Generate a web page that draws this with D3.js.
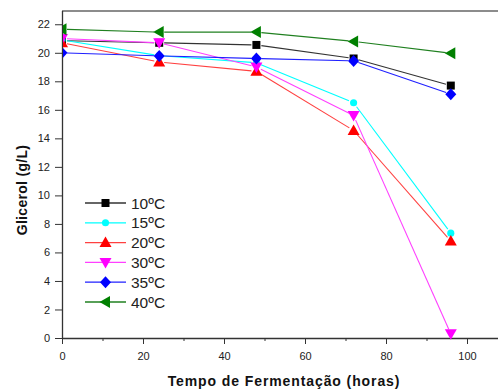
<!DOCTYPE html>
<html><head><meta charset="utf-8">
<script src="https://cdn.jsdelivr.net/npm/d3@7"></script>
<style>body{margin:0;background:#fff;}svg{display:block;font-family:Arial,"Liberation Sans",sans-serif;}</style>
</head><body><svg id="c" width="498" height="389"></svg>
<script>
const hours = [0, 24, 48, 72, 96];
const seriesNames = ["10ºC", "15ºC", "20ºC", "30ºC", "35ºC", "40ºC"];
const s10 = [20.85, 20.7, 20.55, 19.6, 17.7];
const s15 = [20.9, 19.8, 19.3, 16.5, 7.35];
const s20 = [20.7, 19.35, 18.7, 14.55, 6.8];
const s30 = [21.0, 20.7, 19.0, 15.6, 0.3];
const s35 = [20.0, 19.78, 19.6, 19.43, 17.1];
const s40 = [21.65, 21.45, 21.45, 20.8, 19.97];
const yTicks = [0,2,4,6,8,10,12,14,16,18,20,22];
const xTicks = [0,20,40,60,80,100];
const xMinor = [10,30,50,70,90];
const colors = ["#000000", "#00ffff", "#ff0000", "#ff00ff", "#0000ff", "#008000"];
const lineColors = ["#333333", "#00ffff", "#ff4040", "#ff40ff", "#2020ff", "#208020"];
const shapes = ["square", "circle", "up", "down", "diamond", "left"];
const allSeries = [s10, s15, s20, s30, s35, s40];

const svg = d3.select("#c");
const L = 62, T = 11, B = 338;
const x = d3.scaleLinear().domain([0, 108]).range([L, L + 108 * 4.05]);
const y = d3.scaleLinear().domain([0, 22.93]).range([B, T]);

// frame top
svg.append("line").attr("x1", L).attr("x2", 498).attr("y1", T).attr("y2", T).attr("stroke", "#666").attr("stroke-width", 1.6);

// axes
const yAxis = svg.append("g").attr("transform", `translate(${L},0)`)
  .call(d3.axisLeft(y).tickValues(yTicks).tickSize(7).tickPadding(5).tickFormat(d3.format("d")));
const xAxis = svg.append("g").attr("transform", `translate(0,${B})`)
  .call(d3.axisBottom(x).tickValues(xTicks).tickSize(6).tickPadding(8).tickFormat(d3.format("d")));
svg.append("g").attr("transform", `translate(0,${B})`)
  .call(d3.axisBottom(x).tickValues(xMinor).tickSize(3).tickFormat(""))
  .select(".domain").remove();
[yAxis, xAxis].forEach(g => {
  g.select(".domain").attr("stroke", "#333").attr("stroke-width", 1.3);
  g.selectAll(".tick text").attr("font-size", 11).attr("fill", "#222").attr("font-family", "Arial, 'Liberation Sans', sans-serif");
});
svg.selectAll(".tick line").attr("stroke", "#333");
xAxis.select(".domain").attr("d", `M${L},0.5H498`);
yAxis.select(".domain").attr("d", `M0.5,${B}V${T}`);

// clip
svg.append("clipPath").attr("id", "pc").append("rect").attr("x", L + 1).attr("y", T).attr("width", 498 - L).attr("height", B - T + 8);

function markerPath(shape) {
  switch (shape) {
    case "square": return "M-4,-4H4V4H-4Z";
    case "circle": return d3.symbol(d3.symbolCircle, 40)();
    case "up": return "M0,-6L6,4.5H-6Z";
    case "down": return "M0,6L6,-4.5H-6Z";
    case "diamond": return "M0,-6L5.5,0L0,6L-5.5,0Z";
    case "left": return "M-6,0L4.5,-6V6Z";
  }
}

const plot = svg.append("g").attr("clip-path", "url(#pc)");
const gap = 5;
allSeries.forEach((vals, si) => {
  const pts = hours.map((h, i) => [x(h), y(vals[i])]);
  for (let i = 0; i < pts.length - 1; i++) {
    const [x1, y1] = pts[i], [x2, y2] = pts[i + 1];
    const dx = x2 - x1, dy = y2 - y1, len = Math.hypot(dx, dy);
    const ux = dx / len, uy = dy / len;
    plot.append("line")
      .attr("x1", x1 + ux * gap).attr("y1", y1 + uy * gap)
      .attr("x2", x2 - ux * gap).attr("y2", y2 - uy * gap)
      .attr("stroke", lineColors[si]).attr("stroke-width", 1.1);
  }
});
allSeries.forEach((vals, si) => {
  plot.selectAll(null).data(hours).enter().append("path")
    .attr("d", markerPath(shapes[si]))
    .attr("transform", (h, i) => `translate(${x(h)},${y(vals[i])})`)
    .attr("fill", colors[si]);
});

// legend
const lg = svg.append("g");
seriesNames.forEach((n, i) => {
  const yy = 203 + i * 19.8;
  lg.append("line").attr("x1", 85).attr("x2", 126).attr("y1", yy).attr("y2", yy).attr("stroke", lineColors[i]).attr("stroke-width", 1.3);
  lg.append("path").attr("d", markerPath(shapes[i])).attr("transform", `translate(105.5,${yy})`).attr("fill", colors[i]);
  lg.append("text").attr("x", 131).attr("y", yy + 5.5).attr("font-size", 15.5).attr("fill", "#222").text(n);
});

// axis titles
svg.append("text").attr("x", 284).attr("y", 386).attr("text-anchor", "middle")
  .attr("font-size", 14).attr("font-weight", "bold").attr("letter-spacing", 0.9).attr("fill", "#111")
  .text("Tempo de Fermentação (horas)");
svg.append("text").attr("transform", "translate(27,190) rotate(-90)").attr("text-anchor", "middle")
  .attr("font-size", 14).attr("font-weight", "bold").attr("letter-spacing", 0.3).attr("fill", "#111")
  .text("Glicerol (g/L)");
</script></body></html>
